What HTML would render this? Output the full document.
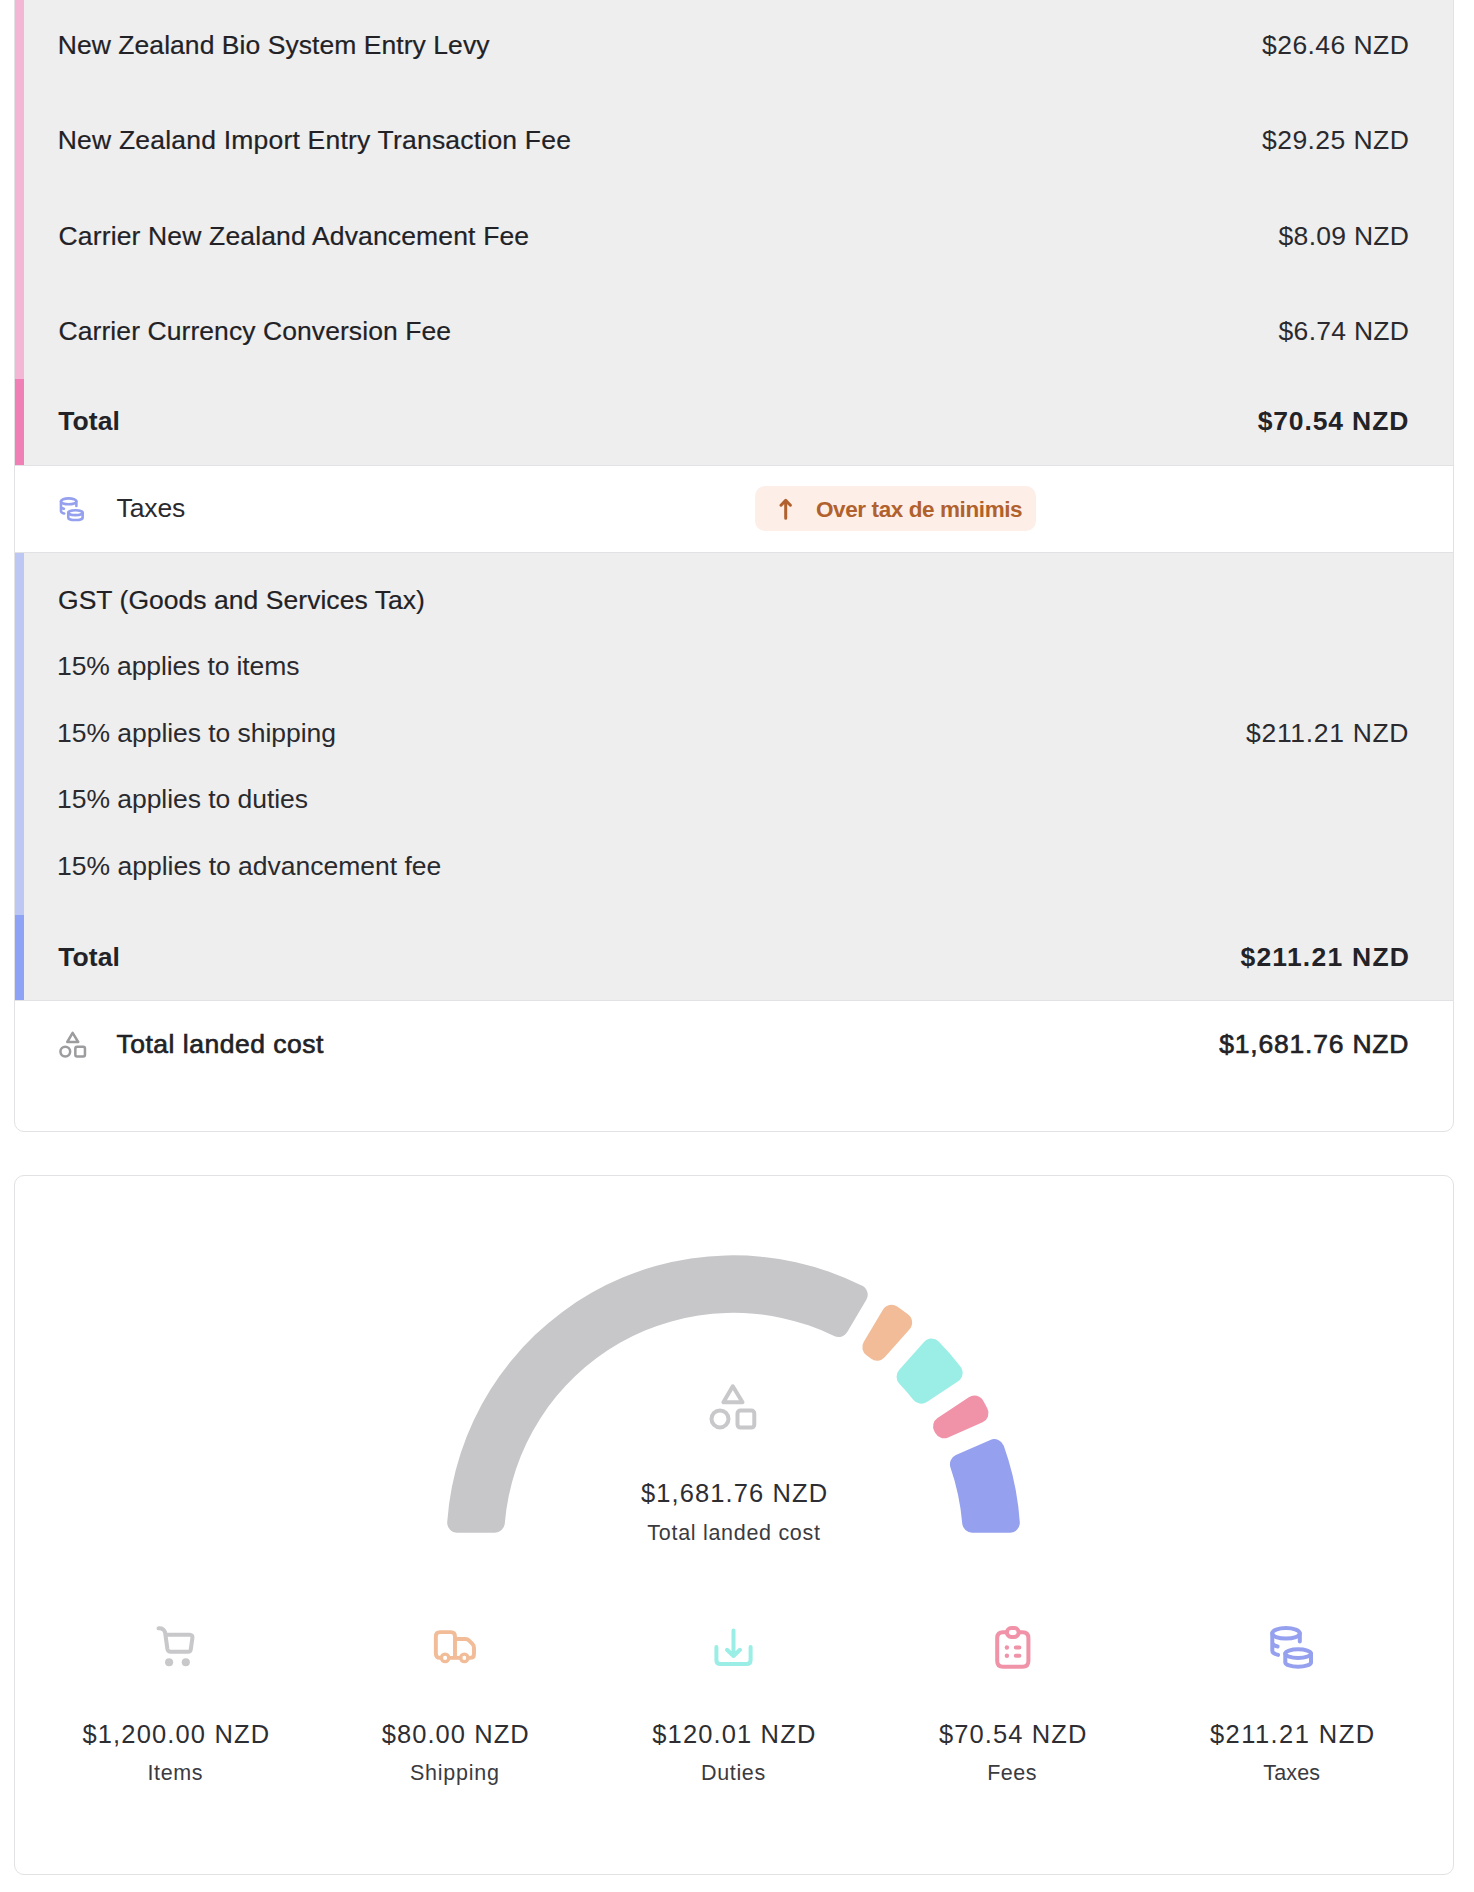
<!DOCTYPE html>
<html>
<head>
<meta charset="utf-8">
<title>Landed cost breakdown</title>
<style>
html,body{margin:0;padding:0;background:#ffffff;}
body{width:1474px;height:1892px;position:relative;overflow:hidden;font-family:"Liberation Sans",Arial,sans-serif;}
.card{position:absolute;left:14px;width:1440px;border:1px solid #e2e2e4;border-radius:10px;background:#fff;overflow:hidden;box-sizing:border-box;}
.sec{position:absolute;left:0;right:0;}
.gray{background:#eeeeef;}
.bar{position:absolute;left:0;width:9px;}
.hl{position:absolute;left:0;right:0;height:1px;background:#e2e2e4;}
.t{position:absolute;white-space:nowrap;}
.ic{position:absolute;overflow:visible;}
</style>
</head>
<body>
<div class="card" style="top:-301px;height:1433px;">
  <div class="sec gray" style="top:0;height:765px;"></div>
  <div class="bar" style="top:0;height:679px;background:#f3b6d5;"></div>
  <div class="bar" style="top:679px;height:86px;background:#f07fb6;"></div>
  <div class="hl" style="top:765px;"></div>
  <div class="hl" style="top:852px;"></div>
  <div class="sec gray" style="top:853px;height:447px;"></div>
  <div class="bar" style="top:853px;height:362px;background:#bdc7f4;"></div>
  <div class="bar" style="top:1215px;height:85px;background:#8ea2f6;"></div>
  <div class="hl" style="top:1300px;"></div>
</div>
<div class="card" style="top:1175px;height:700px;"></div>
<div style="position:absolute;left:755px;top:486px;width:281px;height:45px;border-radius:10px;background:#fdefe7;"></div>
<svg class="ic" style="left:776px;top:496px" width="20" height="26" viewBox="0 0 20 26"><path d="M9.7 5V22.3M5 9.2L9.7 4.4L14.4 9.2" fill="none" stroke="#b0612d" stroke-width="3" stroke-linecap="round" stroke-linejoin="round"/></svg>
<svg class="ic" style="left:58.35px;top:494.8px" width="26.9" height="26.9" viewBox="0 0 48 48"><g fill="none" stroke="#95a0ee" stroke-width="4.6" stroke-linecap="round" stroke-linejoin="round"><ellipse cx="19" cy="11.3" rx="13.8" ry="5.3"/><path d="M5.3 11.3V28.5Q5.3 31.6 11.1 32.9M5.3 20Q5.3 23.3 10.6 24.5M32.8 11.3V19.6"/><ellipse cx="31.15" cy="31.6" rx="12.85" ry="4.35"/><path d="M18.3 31.6V40.4A12.85 4.35 0 0 0 44 40.4V31.6"/></g></svg>
<svg class="ic" style="left:58.76px;top:1031.36px" width="27.5" height="27.5" viewBox="0 0 48 48"><g fill="none" stroke="#9c9c9f" stroke-width="4.4" stroke-linecap="round" stroke-linejoin="round"><path d="M23.8 3.3L14.4 19.2H33.5Z"/><circle cx="11" cy="35.9" r="8.5"/><rect x="28.5" y="27.5" width="16.8" height="17.1" rx="3"/></g></svg>
<svg class="ic" style="left:0;top:0" width="1474" height="1892"><g transform="translate(733.5,1542.3)">
<path fill="#c7c7ca" d="M-276.30,-9.65A10.00,10.00,0,0,1,-286.28,-20.35A287.00,287.00,0,0,1,128.71,-256.52A10.00,10.00,0,0,1,132.83,-242.47L113.62,-210.14A10.00,10.00,0,0,1,100.64,-206.26A229.50,229.50,0,0,0,-228.73,-18.82A10.00,10.00,0,0,1,-238.69,-9.65Z"/>
<path fill="#f1bc97" d="M149.41,-232.62A10.00,10.00,0,0,1,163.71,-235.73A287.00,287.00,0,0,1,174.72,-227.69A10.00,10.00,0,0,1,176.11,-213.12L151.16,-184.98A10.00,10.00,0,0,1,137.68,-183.62A229.50,229.50,0,0,0,133.00,-187.03A10.00,10.00,0,0,1,130.20,-200.29Z"/>
<path fill="#9aeee6" d="M190.55,-200.32A10.00,10.00,0,0,1,205.18,-200.68A287.00,287.00,0,0,1,227.02,-175.58A10.00,10.00,0,0,1,224.65,-161.14L193.35,-140.30A10.00,10.00,0,0,1,179.96,-142.42A229.50,229.50,0,0,0,165.85,-158.63A10.00,10.00,0,0,1,165.59,-172.18Z"/>
<path fill="#f092a8" d="M235.34,-145.08A10.00,10.00,0,0,1,249.58,-141.70A287.00,287.00,0,0,1,253.89,-133.82A10.00,10.00,0,0,1,249.07,-120.00L214.64,-104.87A10.00,10.00,0,0,1,201.82,-109.26A229.50,229.50,0,0,0,200.83,-111.08A10.00,10.00,0,0,1,204.04,-124.24Z"/>
<path fill="#95a0ee" d="M256.83,-102.34A10.00,10.00,0,0,1,270.27,-96.55A287.00,287.00,0,0,1,286.28,-20.35A10.00,10.00,0,0,1,276.30,-9.65L238.69,-9.65A10.00,10.00,0,0,1,228.73,-18.82A229.50,229.50,0,0,0,216.97,-74.79A10.00,10.00,0,0,1,222.40,-87.21Z"/>
</g></svg>
<svg class="ic" style="left:709.4px;top:1383px" width="48" height="48" viewBox="0 0 48 48"><g fill="none" stroke="#c8c8cb" stroke-width="4" stroke-linecap="round" stroke-linejoin="round"><path d="M23.8 3.3L14.4 19.2H33.5Z"/><circle cx="11" cy="35.9" r="8.5"/><rect x="28.5" y="27.5" width="16.8" height="17.1" rx="3"/></g></svg>
<svg class="ic" style="left:151.6px;top:1622px" width="48" height="48" viewBox="0 0 48 48"><g fill="none" stroke="#c8c8cb" stroke-width="4.05" stroke-linecap="round" stroke-linejoin="round"><path d="M6.6 6.3Q11.6 5.9 13.1 10.5L15.4 27Q15.9 29.8 18.8 29.8H36Q38.4 29.8 38.8 27.2L40.4 16Q40.8 12.8 37.8 12.8H13.6"/></g><g fill="#c8c8cb"><circle cx="17.1" cy="40.2" r="4.05"/><circle cx="33.8" cy="40.2" r="4.05"/></g></svg>
<svg class="ic" style="left:430.5px;top:1622px" width="48" height="48" viewBox="0 0 48 48"><g fill="none" stroke="#f1bc97" stroke-width="3.9" stroke-linecap="round" stroke-linejoin="round"><path d="M10.2 35.9H9Q4.85 35.9 4.85 31.7V14.3Q4.85 10.1 9 10.1H19.8Q24 10.1 24 14.3V35.9M17.9 35.9H29.6M24 17H34.3Q36.6 17 38.2 18.6L41.4 21.8Q43 23.4 43 25.8V32Q43 35.9 39 35.9H37.1"/><circle cx="14.1" cy="35.9" r="3.7" stroke-width="3.3"/><circle cx="33.3" cy="35.9" r="3.7" stroke-width="3.3"/></g></svg>
<svg class="ic" style="left:708.5px;top:1622px" width="48" height="48" viewBox="0 0 48 48"><g fill="none" stroke="#9aeee6" stroke-width="4" stroke-linecap="round" stroke-linejoin="round"><path d="M7.4 25V38.1Q7.4 42.1 11.4 42.1H37.6Q41.6 42.1 41.6 38.1V25M24.5 8.5V33.5M18 27.8L24.5 34L31 27.8"/></g></svg>
<svg class="ic" style="left:987.5px;top:1622px" width="48" height="48" viewBox="0 0 48 48"><g fill="none" stroke="#f092a8" stroke-width="4" stroke-linecap="round" stroke-linejoin="round"><path d="M17.6 10.3H15Q9.2 10.3 9.2 16.1V38.9Q9.2 44.7 15 44.7H34.6Q40.4 44.7 40.4 38.9V16.1Q40.4 10.3 34.6 10.3H31.8"/><rect x="18.9" y="6.1" width="11.8" height="8.8" rx="4.4"/><path d="M27.8 25.5H31.4M27.8 33.8H31.4"/></g><g fill="#f092a8"><circle cx="18.9" cy="25.5" r="2.2"/><circle cx="18.9" cy="33.8" r="2.2"/></g></svg>
<svg class="ic" style="left:1266.6px;top:1622px" width="48" height="48" viewBox="0 0 48 48"><g fill="none" stroke="#95a0ee" stroke-width="4" stroke-linecap="round" stroke-linejoin="round"><ellipse cx="19" cy="11.3" rx="13.8" ry="5.3"/><path d="M5.3 11.3V28.5Q5.3 31.6 11.1 32.9M5.3 20Q5.3 23.3 10.6 24.5M32.8 11.3V19.6"/><ellipse cx="31.15" cy="31.6" rx="12.85" ry="4.35"/><path d="M18.3 31.6V40.4A12.85 4.35 0 0 0 44 40.4V31.6"/></g></svg>
<div class="t" style="top:32.17px;font-size:26.5px;line-height:26.5px;color:#222226;letter-spacing:0.051px;-webkit-text-stroke:0.2px #222226;left:57.75px;">New Zealand Bio System Entry Levy</div>
<div class="t" style="top:32.07px;font-size:26.5px;line-height:26.5px;color:#2a2a2e;letter-spacing:0.421px;right:64.80px;">$26.46 NZD</div>
<div class="t" style="top:127.27px;font-size:26.5px;line-height:26.5px;color:#222226;letter-spacing:0.205px;-webkit-text-stroke:0.2px #222226;left:57.75px;">New Zealand Import Entry Transaction Fee</div>
<div class="t" style="top:127.27px;font-size:26.5px;line-height:26.5px;color:#2a2a2e;letter-spacing:0.421px;right:64.80px;">$29.25 NZD</div>
<div class="t" style="top:222.57px;font-size:26.5px;line-height:26.5px;color:#222226;letter-spacing:0.150px;-webkit-text-stroke:0.2px #222226;left:58.55px;">Carrier New Zealand Advancement Fee</div>
<div class="t" style="top:222.57px;font-size:26.5px;line-height:26.5px;color:#2a2a2e;letter-spacing:0.271px;right:64.80px;">$8.09 NZD</div>
<div class="t" style="top:317.87px;font-size:26.5px;line-height:26.5px;color:#222226;letter-spacing:0.073px;-webkit-text-stroke:0.2px #222226;left:58.55px;">Carrier Currency Conversion Fee</div>
<div class="t" style="top:317.87px;font-size:26.5px;line-height:26.5px;color:#2a2a2e;letter-spacing:0.271px;right:64.80px;">$6.74 NZD</div>
<div class="t" style="top:408.17px;font-size:26.5px;line-height:26.5px;color:#232327;letter-spacing:0.050px;font-weight:700;left:58.30px;">Total</div>
<div class="t" style="top:408.17px;font-size:26.5px;line-height:26.5px;color:#232327;letter-spacing:0.869px;font-weight:700;right:64.80px;">$70.54 NZD</div>
<div class="t" style="top:495.17px;font-size:26.5px;line-height:26.5px;color:#2a2a2e;letter-spacing:-0.100px;left:116.50px;">Taxes</div>
<div class="t" style="top:498.55px;font-size:22.5px;line-height:22.5px;color:#b0612d;letter-spacing:-0.400px;font-weight:700;left:816.00px;">Over tax de minimis</div>
<div class="t" style="top:586.87px;font-size:26.5px;line-height:26.5px;color:#222226;letter-spacing:0.039px;-webkit-text-stroke:0.2px #222226;left:58.00px;">GST (Goods and Services Tax)</div>
<div class="t" style="top:653.07px;font-size:26.5px;line-height:26.5px;color:#2a2a2e;letter-spacing:-0.117px;left:57.10px;">15% applies to items</div>
<div class="t" style="top:719.77px;font-size:26.5px;line-height:26.5px;color:#2a2a2e;letter-spacing:-0.045px;left:57.10px;">15% applies to shipping</div>
<div class="t" style="top:719.77px;font-size:26.5px;line-height:26.5px;color:#2a2a2e;letter-spacing:0.680px;right:64.80px;">$211.21 NZD</div>
<div class="t" style="top:786.47px;font-size:26.5px;line-height:26.5px;color:#2a2a2e;letter-spacing:-0.050px;left:57.10px;">15% applies to duties</div>
<div class="t" style="top:853.17px;font-size:26.5px;line-height:26.5px;color:#2a2a2e;letter-spacing:-0.012px;left:57.10px;">15% applies to advancement fee</div>
<div class="t" style="top:943.87px;font-size:26.5px;line-height:26.5px;color:#232327;letter-spacing:0.050px;font-weight:700;left:58.30px;">Total</div>
<div class="t" style="top:943.87px;font-size:26.5px;line-height:26.5px;color:#232327;letter-spacing:1.240px;font-weight:700;right:63.80px;">$211.21 NZD</div>
<div class="t" style="top:1031.27px;font-size:26.5px;line-height:26.5px;color:#222226;letter-spacing:0.500px;-webkit-text-stroke:0.65px #222226;left:116.50px;">Total landed cost</div>
<div class="t" style="top:1031.27px;font-size:26.5px;line-height:26.5px;color:#222226;letter-spacing:0.782px;-webkit-text-stroke:0.65px #222226;right:64.80px;">$1,681.76 NZD</div>
<div class="t" style="top:1480.71px;font-size:25.5px;line-height:25.5px;color:#2e2e32;letter-spacing:1.101px;left:534.65px;width:400px;text-align:center;">$1,681.76 NZD</div>
<div class="t" style="top:1522.60px;font-size:21.5px;line-height:21.5px;color:#3b3b3f;letter-spacing:0.701px;left:534.00px;width:400px;text-align:center;">Total landed cost</div>
<div class="t" style="top:1722.11px;font-size:25.5px;line-height:25.5px;color:#2e2e32;letter-spacing:1.149px;left:-23.65px;width:400px;text-align:center;">$1,200.00 NZD</div>
<div class="t" style="top:1722.11px;font-size:25.5px;line-height:25.5px;color:#2e2e32;letter-spacing:1.069px;left:255.75px;width:400px;text-align:center;">$80.00 NZD</div>
<div class="t" style="top:1722.11px;font-size:25.5px;line-height:25.5px;color:#2e2e32;letter-spacing:1.140px;left:534.35px;width:400px;text-align:center;">$120.01 NZD</div>
<div class="t" style="top:1722.11px;font-size:25.5px;line-height:25.5px;color:#2e2e32;letter-spacing:1.111px;left:813.30px;width:400px;text-align:center;">$70.54 NZD</div>
<div class="t" style="top:1722.11px;font-size:25.5px;line-height:25.5px;color:#2e2e32;letter-spacing:1.440px;left:1092.75px;width:400px;text-align:center;">$211.21 NZD</div>
<div class="t" style="top:1763.20px;font-size:21.5px;line-height:21.5px;color:#3b3b3f;letter-spacing:0.650px;left:-24.65px;width:400px;text-align:center;">Items</div>
<div class="t" style="top:1763.20px;font-size:21.5px;line-height:21.5px;color:#3b3b3f;letter-spacing:0.770px;left:254.90px;width:400px;text-align:center;">Shipping</div>
<div class="t" style="top:1763.20px;font-size:21.5px;line-height:21.5px;color:#3b3b3f;letter-spacing:0.640px;left:533.40px;width:400px;text-align:center;">Duties</div>
<div class="t" style="top:1763.20px;font-size:21.5px;line-height:21.5px;color:#3b3b3f;letter-spacing:0.466px;left:812.10px;width:400px;text-align:center;">Fees</div>
<div class="t" style="top:1763.20px;font-size:21.5px;line-height:21.5px;color:#3b3b3f;letter-spacing:0.150px;left:1091.80px;width:400px;text-align:center;">Taxes</div>
</body>
</html>
